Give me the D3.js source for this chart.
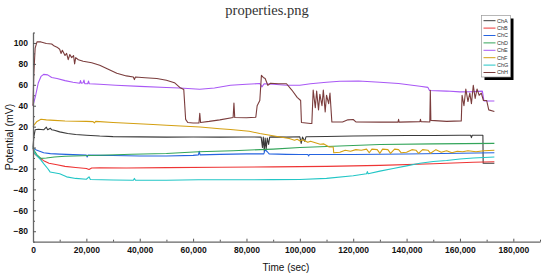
<!DOCTYPE html>
<html><head><meta charset="utf-8">
<script src="https://cdn.jsdelivr.net/npm/d3@7"></script>
<style>body{margin:0;background:#fff}svg{display:block}</style>
</head><body>
<svg id="c" width="542" height="275"></svg>
<script>
const seriesNames = ["ChA","ChB","ChC","ChD","ChE","ChF","ChG","ChH"];
const seriesColors = ["#3a3a3a","#ee3535","#2563e0","#33a55a","#a958f5","#d4a012","#22c6c6","#7b3d3d"];
const xTicks = [0,20000,40000,60000,80000,100000,120000,140000,160000,180000];
const yTicks = [-80,-60,-40,-20,0,20,40,60,80,100];

const chA = [[0,0],[300,10],[800,17],[2000,17.5],[4000,17],[5000,19.5],[5500,17],[6500,18.5],[7000,17],[8000,16.5],[10000,15],[13000,13.5],[16000,12.5],[20000,11.8],[25000,11],[30000,10.5],[40000,10.2],[50000,10],[60000,10.1],[70000,10],[80000,10.1],[85500,10],[86000,0],[86300,10],[86700,-4],[87000,9],[87400,-1],[87800,9],[88300,3],[88700,10],[90000,10.2],[95000,10],[100000,10.3],[100500,4],[101000,10],[101800,6],[102300,10.3],[110000,10.6],[120000,11],[130000,11.3],[140000,11.5],[150000,11.6],[160000,11.8],[164000,11.8],[164300,9.5],[164600,11.8],[168600,11.8],[168700,-15],[172900,-15]];
const chB = [[0,0],[300,-5],[1000,-7],[2500,-10],[4000,-12.5],[6000,-15],[9000,-16.5],[12000,-18],[16000,-19],[20000,-20],[21000,-21],[22000,-19.5],[25000,-19.3],[35000,-19.5],[50000,-19.2],[70000,-18.8],[90000,-18.5],[110000,-18],[130000,-17],[150000,-15.5],[165000,-14],[172900,-13.5]];
const chC = [[0,0],[400,-1],[1000,-2],[2000,-3],[4000,-5],[6500,-5.8],[10000,-6.3],[15000,-6.8],[20000,-7.2],[20300,-9],[20600,-7.2],[30000,-7.6],[40000,-8],[50000,-8],[60000,-7.5],[62000,-7],[62300,-3.5],[62600,-7],[70000,-6.5],[80000,-6],[86500,-6],[87000,-2],[87800,-4],[88500,-6],[95000,-6.5],[100000,-6.7],[103000,-6.7],[103300,-8],[103600,-6.7],[120000,-6.6],[140000,-6.2],[160000,-5.5],[172900,-5]];
const chD = [[0,0],[500,-3],[1500,-7],[3000,-10.3],[5000,-10],[8000,-9],[12000,-8.3],[25000,-7.4],[37000,-6.4],[50000,-5.7],[62000,-4],[75000,-3],[90000,-1.5],[100000,0],[115000,1.5],[130000,2.9],[150000,3.5],[172900,4]];
const chE = [[0,40],[1000,50],[2000,62],[3000,68],[4000,70],[5500,69.5],[7000,67],[9000,66],[12000,64],[15000,62.5],[17500,61.5],[17800,64],[18100,61.5],[18800,62],[19100,64.5],[19400,61],[20500,61],[20800,63.5],[21100,61],[25000,60.5],[31000,59.6],[40000,58.5],[50000,57.4],[55000,57],[62500,55.7],[68000,57],[74000,59.5],[80000,60.5],[85000,61.2],[85800,58],[86600,61],[90000,60.5],[95000,59.5],[100000,59.5],[104000,61],[110000,62.5],[115000,63.4],[122000,63.7],[130000,62.5],[137000,61.2],[145000,58.6],[148000,57.5],[148600,54.5],[155000,54],[160000,53.2],[165000,53.5],[168400,54],[169000,44.5],[172900,44.5]];
const chF = [[0,20],[500,22],[1500,25],[3000,27],[5000,26.5],[8000,26],[12000,25.4],[20000,25],[22500,24.8],[23000,23.5],[23500,25],[30000,24],[37600,23],[45000,22],[50000,21.3],[62600,19.7],[70000,18],[74000,17.2],[81000,15.6],[85000,13.4],[92600,10.1],[96000,8.6],[98000,7],[99000,8],[100100,6.3],[101000,7.5],[103000,5],[104000,6],[107600,3.2],[109000,3.5],[111000,0.6],[112500,0.5],[112700,-5],[115000,-4.5],[117000,-2.5],[119000,-3.5],[121000,-2],[123000,-2.5],[125000,-1.5],[126000,-5],[127000,-1.5],[129000,-2],[130000,-5.5],[131000,-1.5],[133000,-2],[134000,-5.5],[135500,-1.5],[137000,-2],[138000,-5],[140000,-4.5],[142000,-2],[143500,-2.5],[144500,-5.5],[146000,-2],[148000,-2.5],[149000,-5.5],[151000,-2],[153000,-4.5],[155000,-3],[157000,-5],[159000,-3.5],[161000,-4],[163000,-3],[166000,-4],[169000,-3],[172900,-2.5]];
const chG = [[0,0],[500,-5],[1500,-8],[3000,-12],[4000,-15.3],[5500,-20],[6400,-23.3],[10000,-25],[12600,-28],[16000,-29.5],[20000,-30.3],[21000,-28],[21500,-30.5],[30000,-31],[37600,-31.3],[38000,-29.5],[38400,-31.3],[50000,-31.3],[62000,-30.8],[75000,-30.8],[80000,-30.8],[90000,-30.7],[100000,-30.5],[110000,-29.5],[120000,-27],[125000,-25],[125300,-23],[125600,-25],[130000,-22.5],[135000,-20],[140000,-17.5],[145000,-15],[150000,-13.3],[155000,-12.3],[160000,-11],[165000,-10],[172900,-9]];
const chH = [[0,40],[300,70],[800,95],[1500,101],[3000,101],[5000,99.5],[7000,99],[8000,97],[9000,96],[10000,94],[10500,90],[11000,93],[12000,88],[12600,90],[13200,84],[13800,89],[14500,86],[15200,88],[15600,80],[16000,86],[17000,84],[18800,82.5],[22000,81],[25000,78.7],[28000,75],[31400,71],[35000,68.5],[37600,67.5],[38000,65],[38400,67.5],[42000,66.8],[46400,66],[50000,64.3],[53000,62],[55000,57.5],[56500,55.5],[57200,27],[58000,24],[60000,23.5],[62200,23.5],[62500,32.8],[62800,24],[66000,25],[70000,26.5],[75000,28.7],[75300,42.5],[75600,28.7],[80000,28.5],[83500,29],[84000,40],[85000,45],[85600,69],[86300,67],[87000,66],[88000,59.5],[89000,61.5],[92000,61],[95000,61],[97000,55],[99000,48],[100300,45],[100600,24],[104000,23],[104500,23],[105000,55],[105800,38],[106300,54],[107000,36],[107500,51],[108300,40],[108800,55],[109500,34],[110000,50],[110800,42],[111300,52],[112000,24.5],[116000,24.5],[118000,26.5],[120000,26.8],[121000,24.5],[130000,24.3],[136800,24.3],[137000,27],[137200,24.3],[145000,24.8],[145200,27],[145400,24.8],[148700,24.5],[148900,54.8],[149100,26],[155000,25],[160500,25.5],[160800,50],[161500,40],[162200,56],[163000,44],[163700,52],[164300,42],[165000,59.5],[165700,47],[166400,56],[167200,50],[168000,52],[168800,45],[170000,45],[170800,36],[172900,34.5]];
const seriesData = [chA,chB,chC,chD,chE,chF,chG,chH];

const svg = d3.select("#c");
const x = d3.scaleLinear().domain([0,190000]).range([33,540]);
const y = d3.scaleLinear().domain([-90,110]).range([241.7,32.5]);

svg.append("text").attr("x",267).attr("y",15).attr("text-anchor","middle")
  .attr("font-family","Liberation Serif, DejaVu Serif, serif").attr("font-size",14.5).attr("fill","#333")
  .text("properties.png");

const line = d3.line().x(d=>x(d[0])).y(d=>y(d[1]));
seriesData.forEach((s,i)=>{
  svg.append("path").datum(s).attr("d",line).attr("fill","none")
    .attr("stroke",seriesColors[i]).attr("stroke-width",1.1).attr("stroke-linejoin","round");
});

// minor ticks
svg.append("g").attr("transform","translate(0,241.7)")
  .call(d3.axisBottom(x).tickValues(d3.range(10000,190001,20000)).tickSize(-2).tickFormat(""))
  .call(g=>{g.select(".domain").remove();g.selectAll("line").attr("stroke","#555");});
svg.append("g").attr("transform","translate(33,0)")
  .call(d3.axisLeft(y).tickValues(d3.range(-90,111,20)).tickSize(-2).tickFormat(""))
  .call(g=>{g.select(".domain").remove();g.selectAll("line").attr("stroke","#555");});

const xa = svg.append("g").attr("transform","translate(0,241.7)")
  .call(d3.axisBottom(x).tickValues(xTicks).tickSize(-3).tickSizeOuter(0).tickPadding(5).tickFormat(d3.format(",")));
const ya = svg.append("g").attr("transform","translate(33,0)")
  .call(d3.axisLeft(y).tickValues(yTicks).tickSize(-3).tickSizeOuter(0).tickPadding(5));
[xa,ya].forEach(g=>{
  g.select(".domain").attr("stroke","#666").attr("stroke-width",1.3);
  g.selectAll(".tick line").attr("stroke","#555");
  g.selectAll("text").attr("font-family","Liberation Sans, Arial, sans-serif")
    .attr("font-size",8.5).attr("font-weight","bold").attr("fill","#111");
});

svg.append("text").attr("x",286).attr("y",271).attr("text-anchor","middle")
  .attr("font-family","Liberation Sans, Arial, sans-serif").attr("font-size",10).attr("fill","#111")
  .text("Time (sec)");
svg.append("text").attr("transform","translate(13,137) rotate(-90)").attr("text-anchor","middle")
  .attr("font-family","Liberation Sans, Arial, sans-serif").attr("font-size",10.5).attr("fill","#111")
  .text("Potential (mV)");

// legend
const lg = svg.append("g");
lg.append("rect").attr("x",484.5).attr("y",18.5).attr("width",29).attr("height",61.5).attr("fill","#000");
lg.append("rect").attr("x",481.5).attr("y",15.5).attr("width",29).attr("height",61.5).attr("fill","#fff")
  .attr("stroke","#999").attr("stroke-width",0.7);
seriesNames.forEach((n,i)=>{
  const yy = 20.7 + i*7.4;
  lg.append("line").attr("x1",483.5).attr("x2",495.5).attr("y1",yy).attr("y2",yy)
    .attr("stroke",seriesColors[i]).attr("stroke-width",1);
  lg.append("text").attr("x",497).attr("y",yy).attr("dy","0.35em")
    .attr("font-family","Liberation Sans, Arial, sans-serif").attr("font-size",5.5).attr("fill","#333").text(n);
});
</script>
</body></html>
